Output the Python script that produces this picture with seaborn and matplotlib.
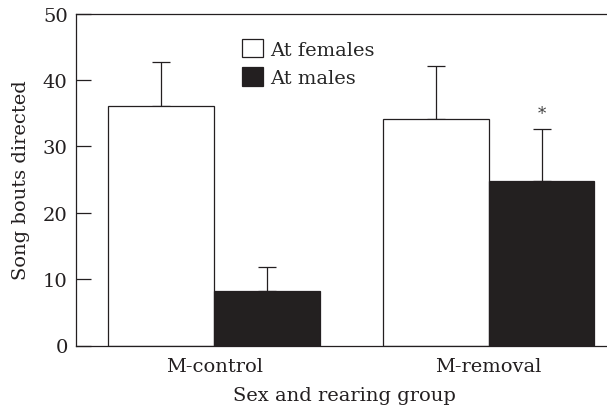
import pandas as pd
import numpy as np
import seaborn as sns
import matplotlib.pyplot as plt
from matplotlib.patches import Patch

groups = ["M-control", "M-removal"]
targets = ["At females", "At males"]
means_females = [36.1, 34.2]
means_males = [8.2, 24.8]
se_females = [6.6, 7.9]
se_males = [3.7, 7.9]

df = pd.DataFrame({
    "group": groups * 2,
    "target": [targets[0]] * 2 + [targets[1]] * 2,
    "bouts": means_females + means_males,
})
errs = se_females + se_males

sns.set_style("ticks")
plt.rcParams["font.family"] = ["DejaVu Serif"]
plt.rcParams["font.size"] = 14

fig = plt.figure(figsize=(6.07, 4.10), dpi=100)
ax = fig.add_axes([76 / 607, 1 - 346.5 / 410, (607 - 76) / 607 + 0.01, (346.5 - 14.7) / 410])

dark = "#231f20"
sns.barplot(data=df, x="group", y="bouts", hue="target", order=groups, hue_order=targets,
            palette={"At females": "white", "At males": dark}, errorbar=None,
            width=0.77, edgecolor=dark, linewidth=0.9, legend=False, ax=ax)

bars = [p for p in ax.patches if p.get_height() > 0]
bars = sorted(bars, key=lambda p: (p.get_facecolor()[0] < 0.5, p.get_x()))
for p, e in zip(bars, errs):
    xc = p.get_x() + p.get_width() / 2
    ax.errorbar(xc, p.get_height(), yerr=[[0], [e]], fmt="none", ecolor=dark,
                elinewidth=0.9, capsize=6.5, capthick=0.9, zorder=0)

male_bar = bars[3]
ax.text(male_bar.get_x() + male_bar.get_width() / 2, 35.0, "*", ha="center", va="center",
        fontsize=12, color="#444444")

ax.set_ylim(0, 50)
ax.set_xlim(-0.503, 1.453)
ax.set_yticks([0, 10, 20, 30, 40, 50])
ax.tick_params(axis="y", direction="in", length=11, width=0.9, colors=dark, labelcolor=dark,
               labelsize=14, pad=6)
ax.tick_params(axis="x", length=0, labelsize=14, labelcolor=dark, pad=8)
for s in ["left", "bottom", "top"]:
    ax.spines[s].set_linewidth(0.9)
    ax.spines[s].set_color(dark)
ax.spines["right"].set_visible(False)

ax.set_xlabel("Sex and rearing group", fontsize=14, color=dark, labelpad=8)
ax.set_ylabel("Song bouts directed", fontsize=14, color=dark, labelpad=9)

handles = [Patch(facecolor="white", edgecolor=dark, linewidth=0.9),
           Patch(facecolor=dark, edgecolor=dark, linewidth=0.9)]
ax.legend(handles, targets, loc="upper left", bbox_to_anchor=(0.309, 0.925), frameon=False,
          fontsize=14, handlelength=1.1, handleheight=1.1, handletextpad=0.35,
          labelspacing=0.45, borderpad=0, borderaxespad=0)

fig.savefig("out.png", dpi=100)
